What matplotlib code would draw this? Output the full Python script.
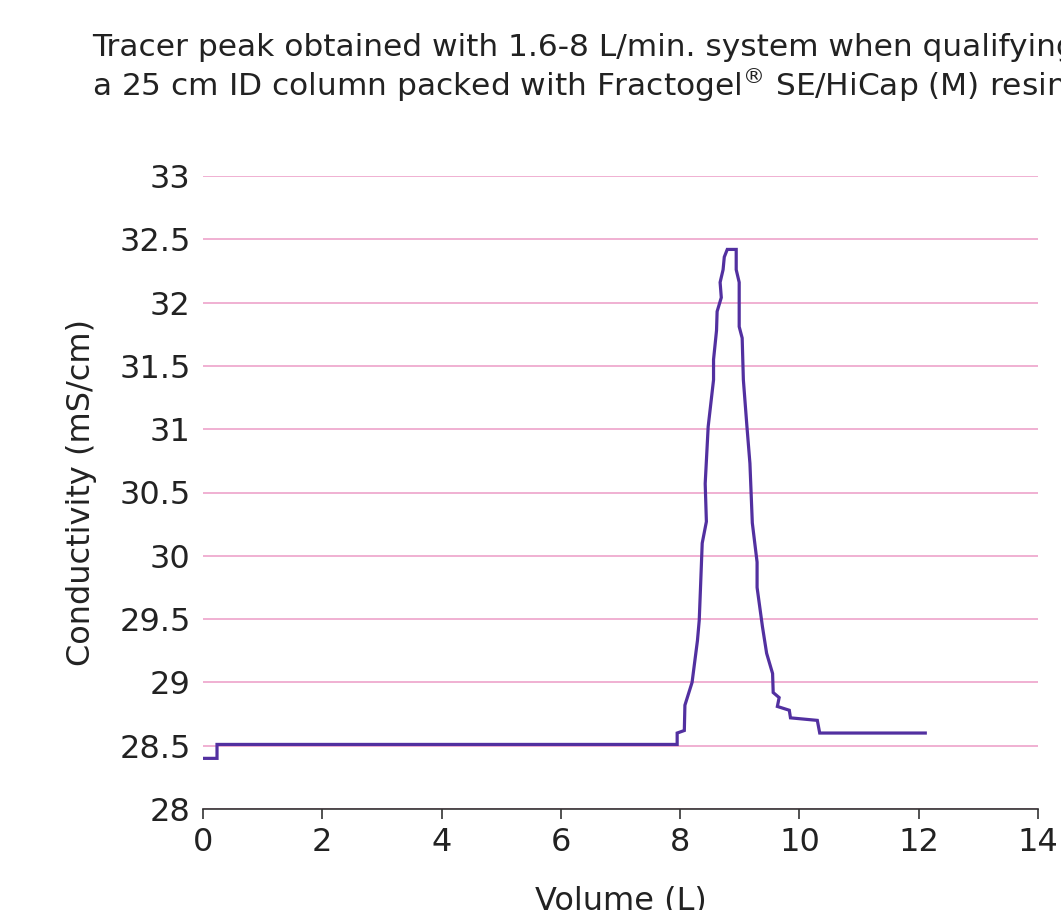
import matplotlib
matplotlib.use("Agg")
import matplotlib.pyplot as plt

# Volume (L) and conductivity (mS/cm)
volume = [0.0, 0.235, 0.235, 7.95, 7.95, 8.07, 8.08, 8.20, 8.29, 8.32, 8.34, 8.37,
          8.44, 8.42, 8.47, 8.56, 8.56, 8.61, 8.62, 8.69, 8.67, 8.72, 8.74, 8.79,
          8.94, 8.94, 8.99, 8.99, 9.04, 9.06, 9.12, 9.17, 9.21, 9.29, 9.29, 9.38,
          9.45, 9.55, 9.56, 9.66, 9.63, 9.83, 9.85, 10.30, 10.34, 12.11]
conductivity = [28.40, 28.40, 28.51, 28.51, 28.60, 28.62, 28.82, 29.00, 29.33, 29.49,
                29.73, 30.10, 30.27, 30.57, 31.02, 31.39, 31.55, 31.78, 31.93, 32.04,
                32.16, 32.26, 32.36, 32.42, 32.42, 32.26, 32.16, 31.81, 31.72, 31.39,
                31.02, 30.73, 30.26, 29.95, 29.75, 29.44, 29.23, 29.07, 28.92, 28.88,
                28.81, 28.78, 28.72, 28.70, 28.60, 28.60]

x_ticks = [0, 2, 4, 6, 8, 10, 12, 14]
y_ticks = [28, 28.5, 29, 29.5, 30, 30.5, 31, 31.5, 32, 32.5, 33]
y_labels = ["28", "28.5", "29", "29.5", "30", "30.5", "31", "31.5", "32", "32.5", "33"]

fig = plt.figure(figsize=(10.61, 9.1), dpi=100)
ax = fig.add_axes([203 / 1061, 1 - 809 / 910, 835 / 1061, 633 / 910])

ax.plot(volume, conductivity, color="#5230a0", linewidth=2.3, solid_joinstyle="miter")

ax.set_xlim(0, 14)
ax.set_ylim(28, 33)
ax.set_xticks(x_ticks)
ax.set_yticks(y_ticks)
ax.set_yticklabels(y_labels)
ax.yaxis.grid(True, color="#f0b0d2", linewidth=1.4)
ax.set_axisbelow(True)

for side in ["left", "right", "top"]:
    ax.spines[side].set_visible(False)
ax.spines["bottom"].set_color("#333333")
ax.spines["bottom"].set_linewidth(1.2)
ax.tick_params(axis="y", length=0, labelsize=23, pad=9, labelcolor="#222222")
ax.tick_params(axis="x", length=7, width=1.2, color="#333333", labelsize=23,
               pad=6, labelcolor="#222222")

ax.set_xlabel("Volume (L)", fontsize=23, color="#222222", labelpad=20)
ax.set_ylabel("Conductivity (mS/cm)", fontsize=23, color="#222222", labelpad=16)

# title runs past the right edge, as in the original
fig.text(92 / 1061, 1 - 33 / 910,
         "Tracer peak obtained with 1.6-8 L/min. system when qualifying\n"
         "a 25 cm ID column packed with Fractogel$^{®}$ SE/HiCap (M) resin",
         fontsize=22.5, color="#222222", ha="left", va="top", linespacing=1.15)

fig.savefig("out.png", dpi=100)
